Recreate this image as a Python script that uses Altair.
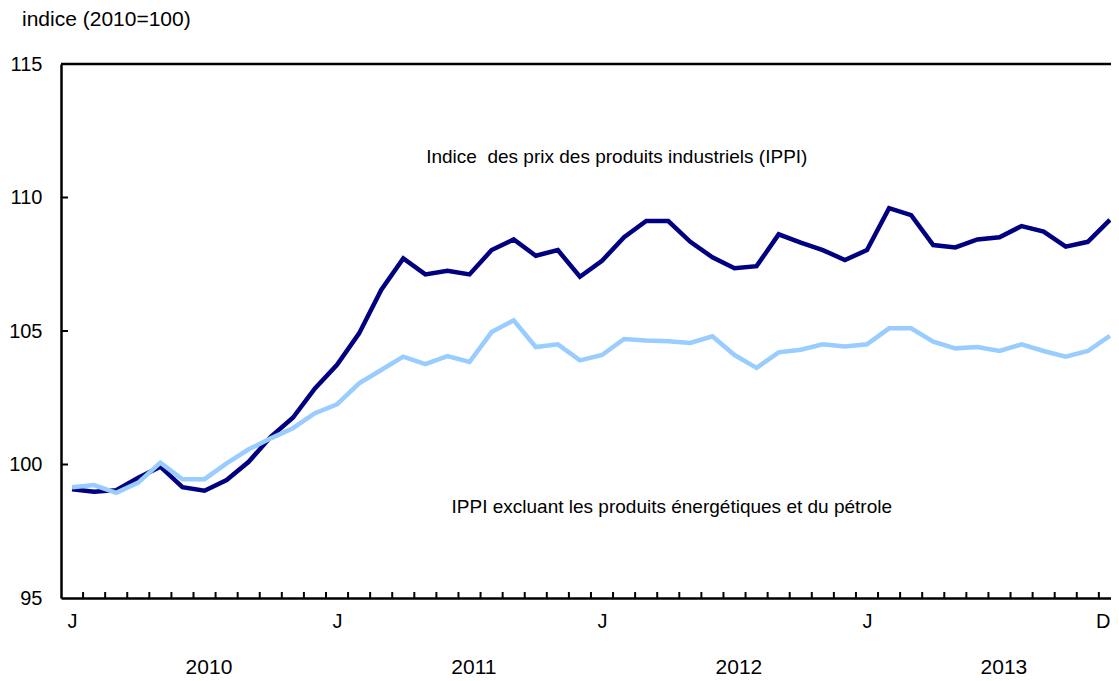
import altair as alt
import pandas as pd

# ---- data (monthly, Jan 2010 .. Dec 2013) ----
months = list(range(48))
ippi = [99.07, 98.98, 99.04, 99.50, 99.92, 99.15, 99.02, 99.42, 100.10, 101.04, 101.75, 102.85,
        103.73, 104.91, 106.54, 107.72, 107.12, 107.26, 107.12, 108.03, 108.43, 107.82, 108.03, 107.03,
        107.63, 108.51, 109.12, 109.12, 108.34, 107.76, 107.35, 107.43, 108.62, 108.31, 108.03, 107.66,
        108.03, 109.60, 109.34, 108.22, 108.13, 108.43, 108.51, 108.93, 108.72, 108.16, 108.34, 109.16]
ippi_excl = [99.15, 99.23, 98.94, 99.32, 100.07, 99.45, 99.45, 100.04, 100.57, 100.98, 101.36, 101.92,
             102.25, 103.04, 103.54, 104.04, 103.76, 104.06, 103.84, 104.96, 105.40, 104.40, 104.50, 103.90,
             104.10, 104.70, 104.64, 104.62, 104.55, 104.80, 104.10, 103.62, 104.20, 104.30, 104.50, 104.42,
             104.50, 105.10, 105.10, 104.60, 104.35, 104.40, 104.25, 104.50, 104.25, 104.04, 104.25, 104.82]
series_names = ["Indice des prix des produits industriels (IPPI)",
                "IPPI excluant les produits énergétiques et du pétrole"]
series_colors = ["#000080", "#99ccff"]
x_tick_values = [0, 12, 24, 36, 47]
x_tick_labels = ["J", "J", "J", "J", "D"]
years = ["2010", "2011", "2012", "2013"]
y_tick_values = [95, 100, 105, 110, 115]
y_inner_ticks = [100, 105, 110]
y_title = "indice (2010=100)"
label_main = "Indice\u00a0 des prix des produits industriels (IPPI)"
label_excl = "IPPI excluant les produits énergétiques et du pétrole"

W, H = 1050, 534
FONT = "Liberation Sans"
FS = 19

df = pd.DataFrame({
    "m": months * 2,
    "v": ippi + ippi_excl,
    "s": [series_names[0]] * len(months) + [series_names[1]] * len(months),
    "o": [0] * len(months) + [1] * len(months),
})

xscale = alt.Scale(domain=[-0.5, 47.05], nice=False, zero=False)
yscale = alt.Scale(domain=[95, 115], nice=False, zero=False)

label_map = "{" + ",".join(f"'{v}':'{t}'" for v, t in zip(x_tick_values, x_tick_labels)) + "}"
last_tick = x_tick_values[-1]

x_axis = alt.Axis(values=x_tick_values, labelExpr=f"{label_map}[datum.value]", ticks=False,
                  grid=False, title=None, domainColor="black", domainWidth=2.5,
                  labelFontSize=20, labelFont=FONT, labelColor="black", labelPadding=13,
                  labelFlush=False, labelAngle=0,
                  labelAlign={"condition": {"test": f"datum.value == {last_tick}", "value": "right"},
                              "value": "center"})
y_axis = alt.Axis(values=y_tick_values, ticks=False, grid=False, title=None,
                  domainColor="black", domainWidth=2.5, labelFontSize=20, labelFont=FONT,
                  labelColor="black", labelPadding=19)

lines = alt.Chart(df).mark_line(strokeWidth=4.5, strokeJoin="miter", clip=False).encode(
    x=alt.X("m:Q", scale=xscale, axis=x_axis),
    y=alt.Y("v:Q", scale=yscale, axis=y_axis),
    color=alt.Color("s:N", scale=alt.Scale(domain=series_names, range=series_colors), legend=None),
    order=alt.Order("o:Q"),
)

top_rule = alt.Chart(pd.DataFrame({"v": [115]})).mark_rule(color="black", strokeWidth=2.5).encode(
    y=alt.Y("v:Q", scale=yscale), x=alt.value(0), x2=alt.value(W))

ytick_df = pd.DataFrame({"v": y_inner_ticks})
y_ticks = alt.Chart(ytick_df).mark_rule(color="black", strokeWidth=2).encode(
    y=alt.Y("v:Q", scale=yscale), x=alt.value(0), x2=alt.value(7))

xtick_df = pd.DataFrame({"b": [m + 0.5 for m in months[:-1]]})
x_ticks = alt.Chart(xtick_df).mark_rule(color="black", strokeWidth=2).encode(
    x=alt.X("b:Q", scale=xscale), y=alt.value(H), y2=alt.value(H - 6))

year_df = pd.DataFrame({"year": years, "i": list(range(len(years)))})
year_text = alt.Chart(year_df).transform_calculate(xp="datum.i * 12 + 6.2").mark_text(
    font=FONT, fontSize=21, color="black", baseline="middle", align="center").encode(
    x=alt.X("xp:Q", scale=xscale), y=alt.value(H + 70), text="year:N")

title_text = alt.Chart(pd.DataFrame({"t": [y_title]})).mark_text(
    font=FONT, fontSize=21, color="black", align="left", baseline="middle").encode(
    x=alt.value(-39), y=alt.value(-44), text="t:N")

ann_df = pd.DataFrame({"t": [label_main, label_excl], "xm": [24.67, 27.16], "yv": [111.52, 98.41]})
ann = alt.Chart(ann_df).mark_text(font=FONT, fontSize=FS, color="black", align="center",
                                  baseline="middle").encode(
    x=alt.X("xm:Q", scale=xscale), y=alt.Y("yv:Q", scale=yscale), text="t:N")

chart = alt.layer(lines, top_rule, y_ticks, x_ticks, year_text, title_text, ann).properties(
    width=W, height=H,
    autosize=alt.AutoSizeParams(type="none"),
    padding={"left": 53, "top": 56, "right": 0, "bottom": 82},
).configure_view(stroke=None).configure(background="white")

chart.save("out.html", embed_options={"renderer": "svg", "actions": False})
